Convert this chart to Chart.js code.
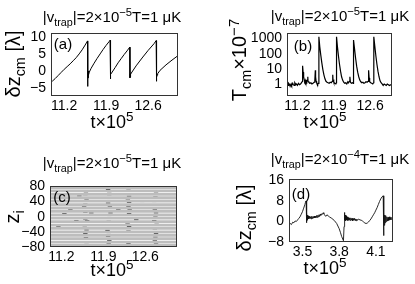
<!DOCTYPE html>
<html>
<head>
<meta charset="utf-8">
<script src="https://cdn.jsdelivr.net/npm/chart.js@4.4.0/dist/chart.umd.min.js"></script>
<style>
body { margin:0; background:#fff; width:415px; height:284px; overflow:hidden; position:relative; font-family:"Liberation Sans", Arial, sans-serif; }
canvas { position:absolute; }
.txt { position:absolute; white-space:nowrap; color:#000; line-height:1; transform:translate(-50%,-50%); }
.rot { transform:translate(-50%,-50%) rotate(-90deg); }
.sb { font-size:0.72em; position:relative; top:0.35em; }
.sp { font-size:0.75em; position:relative; top:-0.5em; }
.ttl { font-size:15px; }
.ax { font-size:20px; }
.xl { font-size:18px; }
.pl { font-size:15px; }
</style>
</head>
<body>
<canvas id="ca"></canvas>
<canvas id="cb"></canvas>
<canvas id="cc"></canvas>
<canvas id="cd"></canvas>

<div class="txt ttl" style="left:112px;top:17px">|v<span class="sb">trap</span>|=2×10<span class="sp">−5</span>T=1 μK</div>
<div class="txt ttl" style="left:340px;top:16px">|v<span class="sb">trap</span>|=2×10<span class="sp">−5</span>T=1 μK</div>
<div class="txt ttl" style="left:112px;top:163px">|v<span class="sb">trap</span>|=2×10<span class="sp">−5</span>T=1 μK</div>
<div class="txt ttl" style="left:340px;top:159px">|v<span class="sb">trap</span>|=2×10<span class="sp">−4</span>T=1 μK</div>

<div class="txt ax rot" style="left:13px;top:64px">δz<span class="sb">cm</span> [λ]</div>
<div class="txt ax rot" style="left:239px;top:60px">T<span class="sb">cm</span>×10<span class="sp">−7</span></div>
<div class="txt ax rot" style="left:12px;top:217px">z<span class="sb">i</span></div>
<div class="txt ax rot" style="left:244px;top:218px">δz<span class="sb">cm</span> [λ]</div>

<div class="txt xl" style="left:112px;top:122px">t×10<span class="sp">5</span></div>
<div class="txt xl" style="left:325px;top:122px">t×10<span class="sp">5</span></div>
<div class="txt xl" style="left:112px;top:270px">t×10<span class="sp">5</span></div>
<div class="txt xl" style="left:325px;top:268px">t×10<span class="sp">5</span></div>

<div class="txt pl" style="left:63px;top:43px">(a)</div>
<div class="txt pl" style="left:303px;top:45px">(b)</div>
<div class="txt pl" style="left:62px;top:196px">(c)</div>
<div class="txt pl" style="left:301px;top:193px">(d)</div>

<script>
// (a) centre of mass displacement, slow trap
var aT = [11.00,11.05,11.10,11.15,11.20,11.25,11.30,11.35,11.40,11.45,11.50,11.55,11.59,
  11.592,11.595,11.598,11.60,11.605,11.61,
  11.62,11.65,11.70,11.75,11.80,11.85,11.90,11.95,11.965,
  11.968,11.972,11.976,11.98,11.99,
  12.05,12.10,12.15,12.20,12.25,12.295,
  12.298,12.302,12.306,12.31,12.32,
  12.40,12.50,12.60,12.70,12.735,
  12.738,12.742,12.746,12.75,12.76,12.80,12.90,13.00,13.10];
var aZ = [-3.0,-2.2,-1.3,-0.4,0.5,1.3,2.1,3.0,3.9,5.0,6.2,7.6,8.8,
  -4.5,0.5,-2.0,-0.5,0.0,-1.2,
  -0.3,0.8,2.3,3.7,5.0,6.3,7.5,8.6,9.0,
  -2.3,-0.5,-1.6,-1.0,-0.6,
  1.0,2.4,3.6,4.8,5.9,7.0,
  -2.0,-0.8,-1.6,-1.0,-0.6,
  1.5,3.8,6.0,8.0,8.9,
  -3.0,-0.5,-1.8,-1.2,-0.8,0.2,1.8,3.2,4.5];

// (b) centre of mass temperature
var bT = [11.00,11.02,11.03,11.05,11.06,11.08,11.09,11.11,11.12,11.14,11.15,11.17,11.18,11.20,11.22,11.24,11.26,11.28,11.295,
  11.30,11.31,11.32,11.33,11.34,11.35,11.36,11.37,11.38,11.39,11.40,11.405,11.42,11.44,11.46,11.48,11.50,11.52,11.535,11.545,
  11.55,11.56,11.57,11.58,11.59,11.60,11.612,11.615,11.63,11.65,11.67,11.69,11.71,11.73,11.75,11.77,11.79,11.81,11.83,11.85,
  11.87,11.88,11.885,11.90,11.92,11.94,11.95,11.953,11.97,11.99,12.01,12.03,12.05,12.07,12.09,12.11,12.13,12.15,12.17,12.18,
  12.20,12.21,12.22,12.24,12.26,12.275,12.28,12.30,12.32,12.34,12.36,12.38,12.40,12.42,12.44,12.46,12.48,12.50,12.52,12.54,
  12.56,12.57,12.58,12.59,12.61,12.63,12.65,12.665,12.67,12.69,12.71,12.73,12.75,12.77,12.79,12.81,12.83,12.85,12.87,12.89,
  12.91,12.93,12.95,12.97,13.00];
var bV = [1.0,0.8,1.1,0.9,0.7,1.0,0.8,1.1,0.9,0.8,1.2,0.9,1.0,0.8,1.1,0.9,1.0,1.2,1.5,
  16,6,3,2,1.5,1.8,1.3,1.6,1.4,1.8,3,1.5,1.3,1.1,1.2,1.0,1.1,1.3,1.6,8,
  3,1.5,1.2,1.0,0.9,1.1,1.2,1300,300,80,25,9,4,2.2,1.5,1.3,1.2,1.1,1.3,1.2,
  1.5,4,2,1.3,1.1,1.0,1.2,1300,300,70,20,7,3,1.8,1.3,1.1,1.2,1.0,1.4,1.2,
  1.5,3,1.3,1.1,1.2,1.1,800,200,50,15,6,3,1.8,1.4,1.2,1.3,1.1,1.2,1.4,1.3,
  1.5,8,2.5,1.4,1.2,1.1,1.0,1.2,1300,300,70,20,7,3,1.6,1.2,1.0,0.8,1.0,0.9,
  0.8,1.0,0.9,0.8,0.9];

// (c) atom positions: lattice rows and hopping events
var cRows = [-76,-67,-58,-49,-40,-31,-22,-13,-4,5,14,23,32,41,50,59,68,77];
var cHopT = [11.60,11.61,11.59,11.62,11.60,11.61,11.60,11.62,11.60,11.61,11.59,11.62,11.60,11.61,11.60,11.62,11.58,11.63,11.60,
  11.98,12.00,11.99,11.98,12.01,11.99,11.98,12.00,11.99,11.98,12.01,11.99,11.98,12.00,11.99,12.02,11.97,12.00,
  12.32,12.33,12.31,12.33,12.32,12.31,12.33,12.32,12.31,12.33,12.32,12.31,12.33,12.32,12.34,12.30,12.33,
  12.76,12.78,12.77,12.75,12.79,12.76,12.78,12.77,12.75,12.79,12.76,12.78,12.77,12.76,12.80,12.74,12.78,
  11.25,11.35,11.45,11.40,11.15,11.70,11.80,12.15,12.45,12.55,12.90,13.00,11.50];
var cHopZ = [75,62,50,44,33,22,12,5,-6,-15,-24,-35,-44,-55,-66,-73,28,-10,58,
  72,58,48,36,28,16,4,-2,-12,-22,-30,-42,-52,-62,-72,10,-36,66,
  70,60,47,38,26,14,8,-4,-16,-26,-38,-48,-58,-70,20,-20,54,
  75,62,52,40,30,18,10,-1,-10,-20,-32,-44,-54,-64,24,-14,-72,
  8,20,-10,30,-25,10,-30,18,-8,40,5,-40,55];

// (d) centre of mass displacement, fast trap
var dT = [3.39,3.40,3.41,3.42,3.43,3.44,3.45,3.46,3.47,3.48,3.49,3.50,3.51,3.52,3.525,3.53,
  3.532,3.534,3.536,3.538,3.54,3.543,3.546,3.55,3.555,3.56,3.565,3.57,3.575,3.58,3.585,3.59,3.595,
  3.60,3.605,3.61,3.615,3.62,3.625,3.63,3.635,3.64,3.645,3.65,3.655,3.66,3.67,3.675,3.68,3.69,3.70,
  3.71,3.72,3.74,3.76,3.78,3.80,3.81,3.82,3.835,
  3.84,3.843,3.846,3.85,3.853,3.856,3.86,3.865,3.87,3.875,3.88,3.885,3.89,3.895,3.90,3.905,3.91,
  3.915,3.92,3.925,3.93,3.935,3.94,3.945,3.95,3.96,3.97,3.98,3.99,4.00,4.01,4.02,4.03,4.04,4.05,
  4.06,4.07,4.08,4.09,4.10,4.11,4.12,4.13,4.14,4.15,4.16,
  4.163,4.166,4.169,4.172,4.175,4.18,4.185,4.19,4.195,4.20,4.205,4.21,4.215,4.22,4.225,4.23,4.24];
var dZ = [-1.5,-0.8,-1.2,-0.3,-0.5,0.2,0.0,0.6,1.2,1.8,2.8,3.8,5.2,6.6,7.5,8.0,
  2,-0.5,3.5,0.5,2.5,0.8,2.2,1.0,2.0,1.2,1.8,1.0,2.0,1.2,1.9,1.3,2.1,
  1.4,2.0,1.5,2.3,1.6,2.4,1.8,2.6,2.0,2.8,2.4,3.0,2.7,3.4,3.0,2.6,2.0,2.6,
  2.2,1.8,1.2,0.4,-0.8,-2.8,-4.2,-5.8,-7.5,
  -2,3.5,0.5,2.5,0.3,2.2,0.6,1.8,0.4,1.5,0.5,1.3,0.4,1.4,0.5,1.2,0.3,
  1.1,0.5,1.2,0.4,1.0,0.3,0.9,0.5,0.9,0.6,0.5,0.2,-0.2,-0.6,-0.8,-0.6,-0.2,0.4,
  1.0,1.8,2.6,3.4,4.4,5.4,6.6,7.8,8.8,9.6,10.0,
  -5.5,3.5,-1.5,2.5,-0.5,2.3,0,1.8,0.2,1.6,0.4,1.8,0.6,1.5,0.8,1.6,1.0];

var FONT = '"Liberation Sans", Arial, sans-serif';

function pts(xs, ys) {
  return xs.map(function (x, i) { return { x: x, y: ys[i] }; });
}

function fmt(v) {
  return String(v).replace('-', '\u2212');
}

var boxPlugin = {
  id: 'box',
  afterDatasetsDraw: function (chart) {
    var a = chart.chartArea, c = chart.ctx;
    c.save();
    c.strokeStyle = '#333';
    c.lineWidth = 1;
    c.strokeRect(Math.round(a.left) + 0.5, Math.round(a.top) + 0.5,
      Math.round(a.right - a.left) - 1, Math.round(a.bottom - a.top) - 1);
    c.restore();
  }
};

// area = plot box [left, top, right, bottom] in page pixels
function panel(id, area, xs, ys, datasets) {
  var padT = 12, padR = 14, yw = 46, xh = 26;
  var L = area[0] - yw, T = area[1] - padT;
  var W = area[2] - L + padR, H = area[3] - T + xh;
  var cv = document.getElementById(id);
  cv.width = W; cv.height = H;
  cv.style.left = L + 'px'; cv.style.top = T + 'px';
  cv.style.width = W + 'px'; cv.style.height = H + 'px';

  return new Chart(cv.getContext('2d'), {
    type: 'line',
    data: { datasets: datasets },
    plugins: [boxPlugin],
    options: {
      responsive: false,
      animation: false,
      layout: { padding: { top: padT, right: padR, left: 0, bottom: 0 } },
      plugins: { legend: { display: false }, tooltip: { enabled: false } },
      scales: {
        x: {
          type: 'linear', min: xs.min, max: xs.max,
          afterBuildTicks: function (s) { s.ticks = xs.ticks.map(function (v) { return { value: v }; }); },
          afterFit: function (s) { s.height = xh; },
          grid: { display: false, drawTicks: false },
          border: { display: false },
          ticks: { color: '#000', font: { family: FONT, size: 14 }, padding: 2, maxRotation: 0, autoSkip: false,
            callback: function (v) { return v.toFixed(1); } }
        },
        y: {
          type: ys.type || 'linear', min: ys.min, max: ys.max,
          afterBuildTicks: function (s) { s.ticks = ys.ticks.map(function (v) { return { value: v }; }); },
          afterFit: function (s) { s.width = yw; },
          grid: { display: false, drawTicks: false },
          border: { display: false },
          ticks: { color: '#000', font: { family: FONT, size: 14 }, padding: 5, autoSkip: false,
            callback: function (v) { return fmt(v); } }
        }
      }
    }
  });
}

function line(data, color, width) {
  return { data: data, borderColor: color, borderWidth: width, pointRadius: 0, tension: 0, fill: false };
}

panel('ca', [51, 32, 178, 96],
  { min: 10.98, max: 13.1, ticks: [11.2, 11.9, 12.6] },
  { min: -7.3, max: 11, ticks: [-5, 0, 5, 10] },
  [line(pts(aT, aZ), '#000', 1)]);

panel('cb', [287, 32, 392, 96],
  { min: 11.0, max: 13.02, ticks: [11.2, 11.9, 12.6] },
  { type: 'logarithmic', min: 0.16, max: 2200, ticks: [1, 10, 100, 1000] },
  [line(pts(bT, bV), '#000', 1.2)]);

var cSets = cRows.map(function (z) {
  return line([{ x: 10.9, y: z }, { x: 13.2, y: z }], '#bdbdbd', 2.8);
});
cSets.push({
  type: 'scatter', data: pts(cHopT, cHopZ), pointStyle: 'line',
  pointRadius: 2.2, borderColor: '#000', borderWidth: 1, showLine: false
});
panel('cc', [50, 185, 177, 247],
  { min: 11.01, max: 13.13, ticks: [11.2, 11.9, 12.6] },
  { min: -80, max: 80, ticks: [-80, -40, 0, 40, 80] },
  cSets);

panel('cd', [289, 178, 393, 242],
  { min: 3.39, max: 4.24, ticks: [3.5, 3.8, 4.1] },
  { min: -8, max: 16.4, ticks: [-8, 0, 8, 16] },
  [line(pts(dT, dZ), '#111', 0.9)]);
</script>
</body>
</html>
